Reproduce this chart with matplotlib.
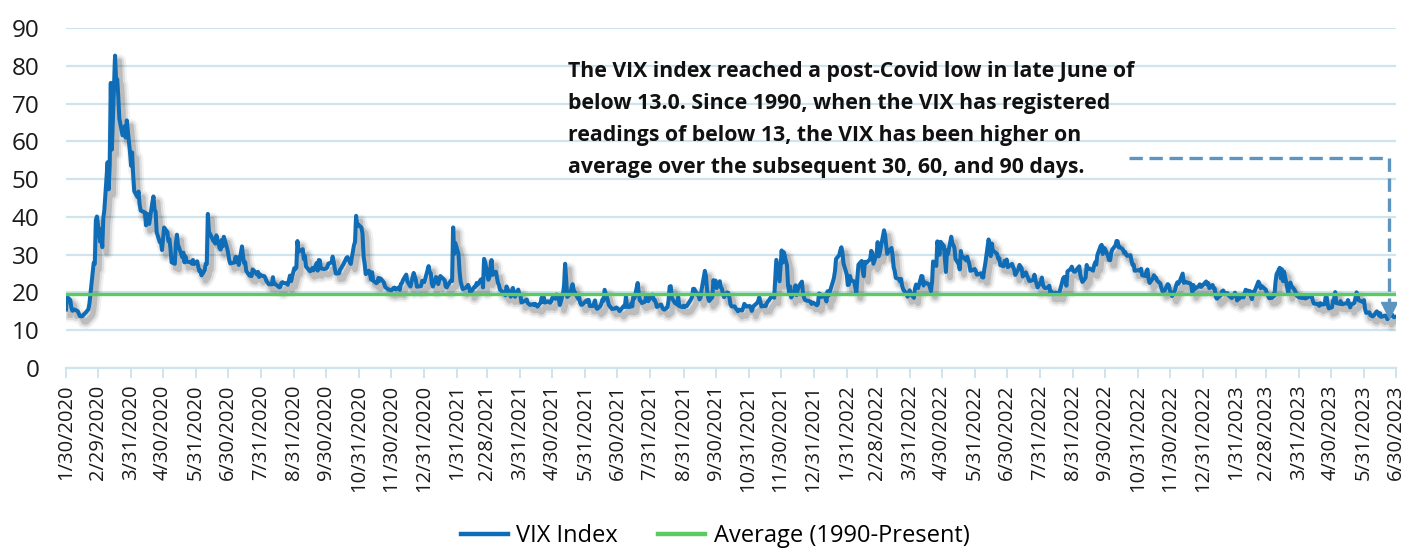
import matplotlib
matplotlib.use("Agg")
import matplotlib.pyplot as plt
import matplotlib.patheffects as pe
from matplotlib.lines import Line2D
import pandas as pd

plt.rcParams['font.family'] = ['Open Sans', 'DejaVu Sans']

# VIX daily closes (MM-DD, level)
vix_2020 = [
    ('01-30', 15.49), ('01-31', 18.84), ('02-03', 17.97), ('02-04', 16.05), ('02-05', 15.15), ('02-07', 15.47),
    ('02-10', 15.04), ('02-12', 13.74), ('02-14', 13.68), ('02-18', 14.83), ('02-20', 15.56), ('02-21', 17.08),
    ('02-24', 25.03), ('02-25', 27.85), ('02-26', 27.56), ('02-27', 39.16), ('02-28', 40.11), ('03-02', 33.42),
    ('03-03', 36.82), ('03-04', 31.99), ('03-05', 39.62), ('03-06', 41.94), ('03-09', 54.46), ('03-10', 47.30),
    ('03-11', 53.90), ('03-12', 75.47), ('03-13', 57.83), ('03-16', 82.69), ('03-17', 75.91), ('03-18', 76.45),
    ('03-19', 72.00), ('03-20', 66.04), ('03-23', 61.59), ('03-24', 61.67), ('03-25', 63.95), ('03-26', 61.00),
    ('03-27', 65.54), ('03-30', 57.08), ('03-31', 53.54), ('04-01', 57.06), ('04-02', 50.91), ('04-03', 46.80),
    ('04-06', 45.24), ('04-07', 46.70), ('04-08', 43.35), ('04-09', 41.67), ('04-13', 41.17), ('04-14', 37.76),
    ('04-15', 40.84), ('04-16', 40.11), ('04-17', 38.15), ('04-20', 43.83), ('04-21', 45.41), ('04-22', 41.98),
    ('04-23', 41.38), ('04-24', 35.93), ('04-27', 33.29), ('04-28', 33.57), ('04-29', 31.23), ('04-30', 34.15),
    ('05-01', 37.19), ('05-04', 35.97), ('05-05', 33.61), ('05-06', 34.12), ('05-07', 31.44), ('05-08', 27.98),
    ('05-11', 27.57), ('05-12', 33.04), ('05-13', 35.28), ('05-14', 32.61), ('05-15', 31.89), ('05-18', 29.30),
    ('05-19', 30.53), ('05-20', 27.99), ('05-21', 29.53), ('05-22', 28.16), ('05-26', 28.01), ('05-27', 27.62),
    ('05-28', 28.59), ('05-29', 27.51), ('06-01', 28.23), ('06-02', 26.84), ('06-03', 25.66), ('06-04', 25.81),
    ('06-05', 24.52), ('06-08', 25.81), ('06-09', 27.57), ('06-10', 27.57), ('06-11', 40.79), ('06-12', 36.09),
    ('06-15', 34.40), ('06-16', 33.67), ('06-17', 33.47), ('06-18', 32.94), ('06-19', 35.12), ('06-22', 31.77),
    ('06-23', 31.37), ('06-24', 33.84), ('06-25', 32.22), ('06-26', 34.73), ('06-29', 31.78), ('06-30', 30.43),
    ('07-01', 28.62), ('07-02', 27.68), ('07-06', 27.94), ('07-07', 29.43), ('07-08', 28.08), ('07-09', 29.26),
    ('07-10', 27.29), ('07-13', 32.19), ('07-14', 29.52), ('07-15', 27.76), ('07-16', 28.00), ('07-17', 25.68),
    ('07-20', 24.46), ('07-21', 24.84), ('07-22', 24.32), ('07-23', 26.08), ('07-24', 25.84), ('07-27', 24.74),
    ('07-28', 25.44), ('07-29', 24.10), ('07-30', 24.76), ('07-31', 24.46), ('08-03', 24.28), ('08-04', 23.76),
    ('08-05', 22.99), ('08-06', 22.65), ('08-07', 22.21), ('08-10', 22.13), ('08-11', 24.03), ('08-12', 22.28),
    ('08-13', 22.28), ('08-14', 22.05), ('08-17', 21.35), ('08-18', 21.51), ('08-19', 22.54), ('08-20', 22.72),
    ('08-21', 22.54), ('08-24', 22.37), ('08-25', 22.03), ('08-26', 23.27), ('08-27', 24.47), ('08-28', 22.96),
    ('08-31', 26.41), ('09-01', 26.12), ('09-02', 26.57), ('09-03', 33.60), ('09-04', 30.75), ('09-08', 31.46),
    ('09-09', 28.81), ('09-10', 29.71), ('09-11', 26.87), ('09-14', 25.85), ('09-15', 25.59), ('09-16', 26.04),
    ('09-17', 26.46), ('09-18', 25.83), ('09-21', 27.78), ('09-22', 25.79), ('09-23', 28.58), ('09-24', 28.51),
    ('09-25', 26.38), ('09-28', 26.19), ('09-29', 26.27), ('09-30', 26.37), ('10-01', 26.70), ('10-02', 27.63),
    ('10-05', 27.96), ('10-06', 29.48), ('10-07', 28.06), ('10-08', 26.36), ('10-09', 25.00), ('10-12', 25.07),
    ('10-13', 26.07), ('10-14', 26.40), ('10-15', 26.97), ('10-16', 27.41), ('10-19', 29.18), ('10-20', 29.35),
    ('10-21', 28.65), ('10-22', 28.11), ('10-23', 27.55), ('10-26', 32.46), ('10-27', 33.35), ('10-28', 40.28),
    ('10-29', 37.59), ('10-30', 38.02), ('11-02', 37.13), ('11-03', 35.55), ('11-04', 29.57), ('11-05', 27.58),
    ('11-06', 24.86), ('11-09', 25.75), ('11-10', 24.80), ('11-11', 23.45), ('11-12', 25.35), ('11-13', 23.10),
    ('11-16', 22.45), ('11-17', 22.71), ('11-18', 23.84), ('11-19', 23.11), ('11-20', 23.70), ('11-23', 22.66),
    ('11-24', 21.64), ('11-25', 21.25), ('11-27', 20.84), ('11-30', 20.57), ('12-01', 20.77), ('12-02', 21.17),
    ('12-03', 21.28), ('12-04', 20.79), ('12-07', 21.30), ('12-08', 20.68), ('12-09', 22.27), ('12-10', 22.52),
    ('12-11', 23.31), ('12-14', 24.72), ('12-15', 22.89), ('12-16', 22.50), ('12-17', 21.93), ('12-18', 21.57),
    ('12-21', 25.16), ('12-22', 24.23), ('12-23', 23.31), ('12-24', 21.53), ('12-28', 21.70), ('12-29', 23.08),
    ('12-30', 22.77), ('12-31', 22.75),
]
vix_2021 = [
    ('01-04', 26.97), ('01-05', 25.34), ('01-06', 25.07), ('01-07', 22.37), ('01-08', 21.56), ('01-11', 24.08),
    ('01-12', 23.33), ('01-13', 22.21), ('01-14', 23.25), ('01-15', 24.34), ('01-19', 23.24), ('01-20', 21.58),
    ('01-21', 21.32), ('01-22', 21.91), ('01-25', 23.19), ('01-26', 23.02), ('01-27', 37.21), ('01-28', 30.21),
    ('01-29', 33.09), ('02-01', 30.24), ('02-02', 25.56), ('02-03', 22.91), ('02-04', 21.77), ('02-05', 20.87),
    ('02-08', 21.24), ('02-09', 21.63), ('02-10', 21.99), ('02-11', 21.25), ('02-12', 19.97), ('02-16', 21.46),
    ('02-17', 21.50), ('02-18', 22.49), ('02-19', 22.05), ('02-22', 23.45), ('02-23', 23.11), ('02-24', 21.34),
    ('02-25', 28.89), ('02-26', 27.95), ('03-01', 23.35), ('03-02', 24.10), ('03-03', 26.67), ('03-04', 28.57),
    ('03-05', 24.66), ('03-08', 25.47), ('03-09', 24.03), ('03-10', 22.56), ('03-11', 21.91), ('03-12', 20.69),
    ('03-15', 20.03), ('03-16', 19.79), ('03-17', 19.23), ('03-18', 21.58), ('03-19', 20.95), ('03-22', 18.88),
    ('03-23', 20.30), ('03-24', 21.20), ('03-25', 19.81), ('03-26', 18.86), ('03-29', 20.74), ('03-30', 19.61),
    ('03-31', 19.40), ('04-01', 17.33), ('04-05', 17.91), ('04-06', 18.12), ('04-07', 17.16), ('04-08', 16.95),
    ('04-09', 16.69), ('04-12', 16.91), ('04-13', 16.65), ('04-14', 16.99), ('04-15', 16.57), ('04-16', 16.25),
    ('04-19', 17.29), ('04-20', 18.68), ('04-21', 17.50), ('04-22', 18.71), ('04-23', 17.33), ('04-26', 17.64),
    ('04-27', 17.56), ('04-28', 17.28), ('04-29', 17.61), ('04-30', 18.61), ('05-03', 18.31), ('05-04', 19.48),
    ('05-05', 19.15), ('05-06', 18.39), ('05-07', 16.69), ('05-10', 19.66), ('05-11', 21.84), ('05-12', 27.59),
    ('05-13', 23.13), ('05-14', 18.81), ('05-17', 19.72), ('05-18', 21.34), ('05-19', 22.18), ('05-20', 20.67),
    ('05-21', 20.15), ('05-24', 18.40), ('05-25', 18.84), ('05-26', 17.36), ('05-27', 16.74), ('05-28', 16.76),
    ('06-01', 17.90), ('06-02', 17.48), ('06-03', 18.04), ('06-04', 16.42), ('06-07', 16.42), ('06-08', 17.07),
    ('06-09', 17.89), ('06-10', 16.10), ('06-11', 15.65), ('06-14', 16.39), ('06-15', 17.02), ('06-16', 18.15),
    ('06-17', 17.75), ('06-18', 20.70), ('06-21', 17.89), ('06-22', 16.66), ('06-23', 16.32), ('06-24', 15.97),
    ('06-25', 15.62), ('06-28', 15.76), ('06-29', 16.02), ('06-30', 15.83), ('07-01', 15.48), ('07-02', 15.07),
    ('07-06', 16.44), ('07-07', 16.20), ('07-08', 19.00), ('07-09', 16.18), ('07-12', 16.17), ('07-13', 17.12),
    ('07-14', 16.33), ('07-15', 19.02), ('07-16', 18.45), ('07-19', 22.50), ('07-20', 19.73), ('07-21', 17.91),
    ('07-22', 17.69), ('07-23', 17.20), ('07-26', 17.58), ('07-27', 19.36), ('07-28', 18.31), ('07-29', 17.70),
    ('07-30', 18.24), ('08-02', 19.46), ('08-03', 18.04), ('08-04', 17.97), ('08-05', 17.28), ('08-06', 16.15),
    ('08-09', 16.72), ('08-10', 16.79), ('08-11', 16.06), ('08-12', 15.59), ('08-13', 15.45), ('08-16', 16.12),
    ('08-17', 17.91), ('08-18', 21.57), ('08-19', 21.67), ('08-20', 18.56), ('08-23', 17.15), ('08-24', 17.22),
    ('08-25', 16.79), ('08-26', 18.84), ('08-27', 16.39), ('08-30', 16.11), ('08-31', 16.48), ('09-01', 16.11),
    ('09-02', 16.41), ('09-03', 16.41), ('09-07', 18.18), ('09-08', 18.80), ('09-09', 20.95), ('09-10', 20.95),
    ('09-13', 19.37), ('09-14', 19.46), ('09-15', 18.18), ('09-16', 18.69), ('09-17', 20.81), ('09-20', 25.71),
    ('09-21', 24.36), ('09-22', 20.87), ('09-23', 18.63), ('09-24', 17.75), ('09-27', 18.76), ('09-28', 23.25),
    ('09-29', 22.56), ('09-30', 23.14), ('10-01', 21.15), ('10-04', 22.96), ('10-05', 21.30), ('10-06', 21.00),
    ('10-07', 19.54), ('10-08', 18.77), ('10-11', 20.00), ('10-12', 19.85), ('10-13', 18.64), ('10-14', 16.86),
    ('10-15', 16.30), ('10-18', 16.30), ('10-19', 15.70), ('10-20', 15.49), ('10-21', 15.01), ('10-22', 15.43),
    ('10-25', 15.24), ('10-26', 15.98), ('10-27', 16.98), ('10-28', 16.53), ('10-29', 16.26), ('11-01', 16.41),
    ('11-02', 16.03), ('11-03', 15.10), ('11-04', 16.03), ('11-05', 16.48), ('11-08', 17.22), ('11-09', 17.78),
    ('11-10', 18.73), ('11-11', 17.66), ('11-12', 16.29), ('11-15', 16.49), ('11-16', 16.37), ('11-17', 17.11),
    ('11-18', 17.59), ('11-19', 17.91), ('11-22', 19.17), ('11-23', 19.38), ('11-24', 18.58), ('11-26', 28.62),
    ('11-29', 22.96), ('11-30', 27.19), ('12-01', 31.12), ('12-02', 27.95), ('12-03', 30.67), ('12-06', 27.18),
    ('12-07', 21.89), ('12-08', 19.90), ('12-09', 21.58), ('12-10', 18.69), ('12-13', 20.31), ('12-14', 21.89),
    ('12-15', 19.29), ('12-16', 20.57), ('12-17', 21.57), ('12-20', 22.87), ('12-21', 19.70), ('12-22', 18.63),
    ('12-23', 17.96), ('12-27', 17.68), ('12-28', 17.54), ('12-29', 16.95), ('12-30', 17.33), ('12-31', 17.22),
]
vix_2022 = [
    ('01-03', 16.60), ('01-04', 16.91), ('01-05', 19.73), ('01-06', 19.61), ('01-07', 18.76), ('01-10', 19.40),
    ('01-11', 18.41), ('01-12', 17.62), ('01-13', 20.31), ('01-14', 19.19), ('01-18', 22.79), ('01-19', 23.85),
    ('01-20', 25.59), ('01-21', 28.85), ('01-24', 29.90), ('01-25', 31.16), ('01-26', 31.96), ('01-27', 30.49),
    ('01-28', 27.66), ('01-31', 24.83), ('02-01', 21.96), ('02-02', 22.09), ('02-03', 24.35), ('02-04', 23.22),
    ('02-07', 22.86), ('02-08', 21.44), ('02-09', 19.96), ('02-10', 23.91), ('02-11', 27.36), ('02-14', 28.33),
    ('02-15', 25.70), ('02-16', 24.29), ('02-17', 28.11), ('02-18', 27.75), ('02-22', 28.81), ('02-23', 31.02),
    ('02-24', 30.32), ('02-25', 27.59), ('02-28', 30.15), ('03-01', 33.32), ('03-02', 29.57), ('03-03', 30.48),
    ('03-04', 31.98), ('03-07', 36.45), ('03-08', 35.13), ('03-09', 32.45), ('03-10', 30.23), ('03-11', 30.75),
    ('03-14', 31.77), ('03-15', 29.83), ('03-16', 26.67), ('03-17', 25.67), ('03-18', 23.87), ('03-21', 23.53),
    ('03-22', 22.94), ('03-23', 23.57), ('03-24', 21.67), ('03-25', 20.81), ('03-28', 19.63), ('03-29', 18.90),
    ('03-30', 19.33), ('03-31', 20.56), ('04-01', 19.63), ('04-04', 18.57), ('04-05', 21.03), ('04-06', 22.10),
    ('04-07', 21.55), ('04-08', 21.16), ('04-11', 24.37), ('04-12', 24.26), ('04-13', 21.82), ('04-14', 22.70),
    ('04-18', 22.17), ('04-19', 21.37), ('04-20', 20.32), ('04-21', 22.68), ('04-22', 28.21), ('04-25', 27.02),
    ('04-26', 33.52), ('04-27', 31.60), ('04-28', 29.99), ('04-29', 33.40), ('05-02', 32.34), ('05-03', 29.25),
    ('05-04', 25.42), ('05-05', 31.20), ('05-06', 30.19), ('05-09', 34.75), ('05-10', 32.99), ('05-11', 32.56),
    ('05-12', 31.77), ('05-13', 28.87), ('05-16', 27.47), ('05-17', 26.10), ('05-18', 30.96), ('05-19', 29.35),
    ('05-20', 29.43), ('05-23', 28.48), ('05-24', 29.45), ('05-25', 28.37), ('05-26', 27.50), ('05-27', 25.72),
    ('05-31', 26.19), ('06-01', 25.69), ('06-02', 24.72), ('06-03', 24.79), ('06-06', 25.07), ('06-07', 24.02),
    ('06-08', 23.96), ('06-09', 26.09), ('06-10', 27.75), ('06-13', 34.02), ('06-14', 32.69), ('06-15', 29.62),
    ('06-16', 32.95), ('06-17', 31.13), ('06-21', 30.19), ('06-22', 28.95), ('06-23', 29.05), ('06-24', 27.23),
    ('06-27', 26.95), ('06-28', 28.36), ('06-29', 28.16), ('06-30', 28.71), ('07-01', 26.70), ('07-05', 27.54),
    ('07-06', 26.73), ('07-07', 26.08), ('07-08', 24.64), ('07-11', 26.17), ('07-12', 27.29), ('07-13', 26.82),
    ('07-14', 26.40), ('07-15', 24.23), ('07-18', 25.30), ('07-19', 24.50), ('07-20', 23.88), ('07-21', 23.11),
    ('07-22', 23.03), ('07-25', 23.36), ('07-26', 24.69), ('07-27', 23.24), ('07-28', 22.33), ('07-29', 21.33),
    ('08-01', 22.84), ('08-02', 23.93), ('08-03', 21.95), ('08-04', 21.44), ('08-05', 21.15), ('08-08', 21.29),
    ('08-09', 21.77), ('08-10', 19.74), ('08-11', 20.20), ('08-12', 19.53), ('08-15', 19.95), ('08-16', 19.69),
    ('08-17', 19.90), ('08-18', 19.56), ('08-19', 20.60), ('08-22', 23.80), ('08-23', 24.11), ('08-24', 22.82),
    ('08-25', 21.78), ('08-26', 25.56), ('08-29', 26.21), ('08-30', 26.83), ('08-31', 25.87), ('09-01', 25.56),
    ('09-02', 25.47), ('09-06', 26.91), ('09-07', 24.64), ('09-08', 23.61), ('09-09', 22.79), ('09-12', 23.87),
    ('09-13', 27.27), ('09-14', 26.16), ('09-15', 26.27), ('09-16', 26.30), ('09-19', 25.76), ('09-20', 27.16),
    ('09-21', 27.99), ('09-22', 27.35), ('09-23', 29.92), ('09-26', 32.26), ('09-27', 32.60), ('09-28', 30.18),
    ('09-29', 31.84), ('09-30', 31.62), ('10-03', 29.59), ('10-04', 28.55), ('10-05', 28.55), ('10-06', 30.52),
    ('10-07', 31.36), ('10-10', 32.45), ('10-11', 33.63), ('10-12', 33.57), ('10-13', 31.94), ('10-14', 32.02),
    ('10-17', 31.37), ('10-18', 30.50), ('10-19', 30.76), ('10-20', 29.98), ('10-21', 29.69), ('10-24', 29.85),
    ('10-25', 28.46), ('10-26', 27.28), ('10-27', 27.39), ('10-28', 25.75), ('10-31', 25.88), ('11-01', 25.81),
    ('11-02', 25.86), ('11-03', 26.26), ('11-04', 24.55), ('11-07', 24.35), ('11-08', 25.54), ('11-09', 26.09),
    ('11-10', 23.53), ('11-11', 22.52), ('11-14', 23.73), ('11-15', 24.54), ('11-16', 24.11), ('11-17', 23.93),
    ('11-18', 23.12), ('11-21', 22.36), ('11-22', 21.18), ('11-23', 20.35), ('11-25', 20.50), ('11-28', 22.21),
    ('11-29', 21.89), ('11-30', 20.58), ('12-01', 19.84), ('12-02', 19.06), ('12-05', 20.75), ('12-06', 22.01),
    ('12-07', 22.68), ('12-08', 22.29), ('12-09', 22.83), ('12-12', 25.00), ('12-13', 22.55), ('12-14', 22.64),
    ('12-15', 22.83), ('12-16', 22.62), ('12-19', 22.42), ('12-20', 21.97), ('12-21', 20.07), ('12-22', 21.97),
    ('12-23', 20.87), ('12-27', 21.65), ('12-28', 22.14), ('12-29', 21.44), ('12-30', 21.67),
]
vix_2023 = [
    ('01-03', 22.90), ('01-04', 22.01), ('01-05', 22.46), ('01-06', 21.13), ('01-09', 21.97), ('01-10', 21.07),
    ('01-11', 21.09), ('01-12', 18.83), ('01-13', 18.35), ('01-17', 19.36), ('01-18', 20.34), ('01-19', 20.52),
    ('01-20', 19.85), ('01-23', 19.81), ('01-24', 19.20), ('01-25', 19.03), ('01-26', 18.73), ('01-27', 18.51),
    ('01-30', 19.94), ('01-31', 19.40), ('02-01', 17.87), ('02-02', 18.73), ('02-03', 18.33), ('02-06', 19.43),
    ('02-07', 18.66), ('02-08', 19.63), ('02-09', 20.71), ('02-10', 20.53), ('02-13', 20.34), ('02-14', 18.91),
    ('02-15', 18.23), ('02-16', 20.17), ('02-17', 20.02), ('02-21', 22.87), ('02-22', 22.29), ('02-23', 21.14),
    ('02-24', 21.67), ('02-27', 20.95), ('02-28', 20.70), ('03-01', 19.59), ('03-02', 19.10), ('03-03', 18.49),
    ('03-06', 18.61), ('03-07', 19.59), ('03-08', 19.11), ('03-09', 22.61), ('03-10', 24.80), ('03-13', 26.52),
    ('03-14', 23.73), ('03-15', 26.14), ('03-16', 22.99), ('03-17', 25.51), ('03-20', 21.38), ('03-21', 19.75),
    ('03-22', 22.26), ('03-23', 22.61), ('03-24', 21.74), ('03-27', 20.60), ('03-28', 19.97), ('03-29', 19.12),
    ('03-30', 19.02), ('03-31', 18.70), ('04-03', 18.55), ('04-04', 18.58), ('04-05', 19.08), ('04-06', 18.40),
    ('04-10', 18.97), ('04-11', 18.97), ('04-12', 19.09), ('04-13', 17.80), ('04-14', 17.07), ('04-17', 16.95),
    ('04-18', 16.83), ('04-19', 16.46), ('04-20', 17.17), ('04-21', 16.77), ('04-24', 16.89), ('04-25', 18.76),
    ('04-26', 18.84), ('04-27', 16.81), ('04-28', 15.78), ('05-01', 16.08), ('05-02', 17.78), ('05-03', 18.34),
    ('05-04', 20.09), ('05-05', 17.19), ('05-08', 17.01), ('05-09', 17.71), ('05-10', 16.94), ('05-11', 16.88),
    ('05-12', 17.03), ('05-15', 17.12), ('05-16', 17.99), ('05-17', 16.87), ('05-18', 16.05), ('05-19', 16.81),
    ('05-22', 17.21), ('05-23', 18.53), ('05-24', 20.03), ('05-25', 19.14), ('05-26', 17.95), ('05-30', 17.46),
    ('05-31', 17.94), ('06-01', 15.65), ('06-02', 14.60), ('06-05', 14.73), ('06-06', 13.96), ('06-07', 13.94),
    ('06-08', 13.65), ('06-09', 13.83), ('06-12', 15.01), ('06-13', 14.61), ('06-14', 13.88), ('06-15', 14.50),
    ('06-16', 13.54), ('06-20', 13.88), ('06-21', 13.67), ('06-22', 12.91), ('06-23', 13.44), ('06-26', 14.25),
    ('06-27', 13.74), ('06-28', 13.43), ('06-29', 13.54), ('06-30', 13.59),
]
avg_1990 = 19.6

# x tick dates (first point, then month ends)
tick_dates = ['2020-01-30'] + [str(d.date()) for d in pd.date_range('2020-02-01', '2023-06-30', freq='ME')]

annot = ("The VIX index reached a post-Covid low in late June of\n"
         "below 13.0. Since 1990, when the VIX has registered\n"
         "readings of below 13, the VIX has been higher on\n"
         "average over the subsequent 30, 60, and 90 days.")

rows = []
for yr, lst in [(2020, vix_2020), (2021, vix_2021), (2022, vix_2022), (2023, vix_2023)]:
    for md, v in lst:
        rows.append((pd.Timestamp(f'{yr}-{md}'), v))
df = pd.DataFrame(rows, columns=['date', 'vix'])

blue = '#0F6DB7'
green = '#5CCB5F'
grid_c = '#CFE4EF'
arrow_c = '#5E95C0'

fig = plt.figure(figsize=(14.06, 5.48), dpi=100)
ax = fig.add_axes([66 / 1406, 1 - 368 / 548, 1330 / 1406, 340 / 548])

shadow = [pe.SimpleLineShadow(offset=(3, -4), shadow_color='k', alpha=0.05, linewidth=10),
          pe.SimpleLineShadow(offset=(3, -4), shadow_color='k', alpha=0.09, linewidth=7),
          pe.SimpleLineShadow(offset=(3, -4), shadow_color='k', alpha=0.14, linewidth=4),
          pe.Normal()]

ax.plot(df['date'], df['vix'], color=blue, lw=2.9, zorder=3,
        path_effects=shadow, solid_joinstyle='round')
ax.plot([df['date'].iloc[0], df['date'].iloc[-1]], [avg_1990, avg_1990], color=green, lw=2.4, zorder=4)

start = pd.Timestamp('2020-01-30')
end = pd.Timestamp('2023-06-30')
ax.set_xlim(start, end)
ax.set_ylim(0, 90)
ax.set_yticks(range(0, 91, 10))
ax.grid(axis='y', color=grid_c, lw=1.6)
ax.set_axisbelow(True)

for s in ['top', 'right', 'left']:
    ax.spines[s].set_visible(False)
ax.spines['bottom'].set_color(grid_c)
ax.spines['bottom'].set_linewidth(1.6)

ax.set_xticks(pd.to_datetime(tick_dates))
ax.set_xticklabels([f'{d.month}/{d.day}/{d.year}' for d in pd.to_datetime(tick_dates)],
                   rotation=90, fontsize=14.5, color='#1a1a1a')
ax.tick_params(axis='x', length=7, width=1.4, color=grid_c, pad=5)
ax.tick_params(axis='y', length=0, labelsize=17.5, labelcolor='#1a1a1a', pad=19)

# dashed arrow from annotation to late-June low
ax_start = pd.Timestamp('2022-10-23')
ax_end = pd.Timestamp('2023-06-23')
ax.plot([ax_start, ax_end, ax_end], [55.6, 55.6, 17.5], color=arrow_c, lw=2.4,
        dashes=(4, 2), zorder=5)
ax.plot([ax_end], [15.3], marker='v', markersize=12, color=arrow_c, zorder=5)

fig.text(568 / 1406, 1 - 61 / 548, annot, fontsize=15.3, fontweight='bold', va='top', ha='left',
         linespacing=1.69, color='#111111')

handles = [Line2D([], [], color=blue, lw=3.2), Line2D([], [], color=green, lw=3.2)]
fig.legend(handles, ['VIX Index', 'Average (1990-Present)'], loc='center',
           bbox_to_anchor=(715 / 1406, 1 - 536 / 548), ncol=2, frameon=False,
           fontsize=17, handlelength=2.0, handletextpad=0.35, columnspacing=1.7)

fig.savefig('out.png', dpi=100)
